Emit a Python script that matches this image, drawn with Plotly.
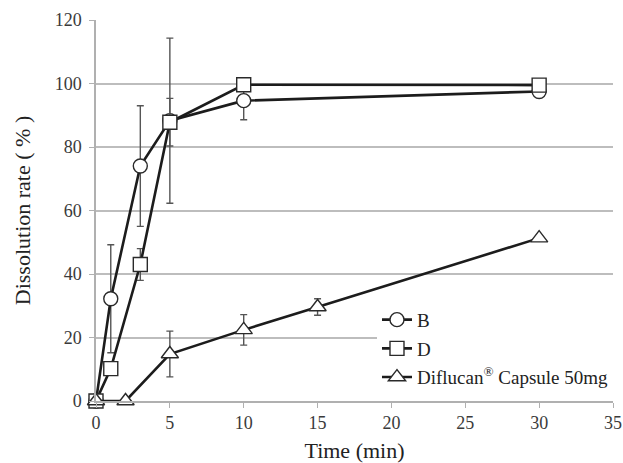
import plotly.graph_objects as go

# Sampling times (min)
time_b = [0, 1, 3, 5, 10, 30]
time_d = [0, 1, 3, 5, 10, 30]
time_dif = [0, 2, 5, 10, 15, 30]

# Mean dissolution rate (%)
rate_b = [0, 32.2, 74.0, 88.3, 94.6, 97.5]
rate_d = [0, 10.2, 43.0, 87.8, 99.6, 99.5]
rate_dif = [0, 0, 14.8, 22.4, 29.6, 51.3]

# Standard deviations (%)
sd_b = [0, 17, 19, 26, 6, 0]
sd_d = [0, 0, 5, 7.5, 0, 0]
sd_dif = [0, 0, 7.2, 4.8, 2.6, 0]

names = ["B", "D", "Diflucan<sup>®</sup> Capsule 50mg"]
symbols = ["circle", "square", "triangle-up"]

x_ticks = [0, 5, 10, 15, 20, 25, 30, 35]
y_ticks = [0, 20, 40, 60, 80, 100, 120]

FONT = "Liberation Serif, Times New Roman, serif"
LINE = "#1c1c1c"
GRID = "#bdbdbd"
AXIS = "#b0b0b0"

fig = go.Figure()
series = [(time_b, rate_b, sd_b), (time_d, rate_d, sd_d), (time_dif, rate_dif, sd_dif)]
for i, ((t, r, sd), name, sym) in enumerate(zip(series, names, symbols)):
    fig.add_trace(go.Scatter(
        x=t, y=r, name=name, mode="lines+markers",
        legendgroup=f"g{i}",
        line=dict(color=LINE, width=2.6),
        marker=dict(symbol=sym, size=14 if i < 2 else 15,
                    color="white", line=dict(color="#2a2a2a", width=1.4)),
        error_y=dict(type="data", array=sd, visible=True, color="#555555",
                     thickness=1.4, width=3.5),
        cliponaxis=False,
    ))

fig.update_layout(
    width=623, height=463,
    margin=dict(l=96, r=10, t=20, b=62, autoexpand=False),
    paper_bgcolor="white", plot_bgcolor="white",
    font=dict(family=FONT, color="#3a3a3a", size=18),
    showlegend=True,
    legend=dict(
        x=0.5435, y=0.263, xanchor="left", yanchor="top",
        bgcolor="white", borderwidth=0,
        font=dict(family=FONT, size=19, color="#222222"),
        traceorder="grouped", tracegroupgap=1,
        itemwidth=30,
    ),
    xaxis=dict(
        range=[0, 35], tickvals=x_ticks, ticks="outside", ticklen=5,
        tickcolor=AXIS, showline=True, linecolor=AXIS, linewidth=1.5,
        showgrid=False, zeroline=False, automargin=False,
        tickfont=dict(family=FONT, size=18, color="#3a3a3a"),
        title=dict(text="Time (min)", font=dict(family=FONT, size=22, color="#222222"),
                   standoff=11),
    ),
    yaxis=dict(
        range=[0, 120], tickvals=y_ticks, ticks="outside", ticklen=5,
        tickcolor=AXIS, showline=True, linecolor=AXIS, linewidth=1.5,
        showgrid=True, gridcolor=GRID, gridwidth=1.5, zeroline=False, automargin=False,
        tickfont=dict(family=FONT, size=18, color="#3a3a3a"),
        ticklabelstandoff=4,
        title=dict(text="Dissolution rate ( % )", font=dict(family=FONT, size=22, color="#222222"),
                   standoff=18),
    ),
)

fig.write_html("out.html")
